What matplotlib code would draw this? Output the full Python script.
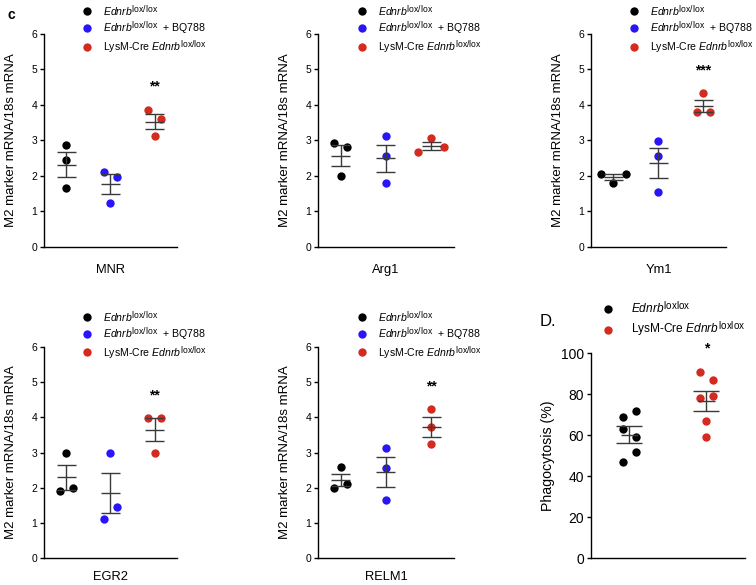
# M2 marker qPCR panels (c) + phagocytosis panel (D.)
import numpy as np
import matplotlib
matplotlib.use('Agg')
from matplotlib import pyplot as plt
from matplotlib.lines import Line2D
import matplotlib._mathtext as mathtext_core

plt.rcParams['font.family'] = ['Liberation Sans', 'DejaVu Sans']
plt.rcParams['mathtext.fontset'] = 'custom'
plt.rcParams['mathtext.rm'] = 'Liberation Sans'
plt.rcParams['mathtext.it'] = 'Liberation Sans:italic'
# superscripts in the original are only a little smaller than the text
# and sit lower than mathtext puts them by default
mathtext_core.SHRINK_FACTOR = 0.82
mathtext_core.FontConstantsBase.sup1 = 0.5

# ---- data ----
genes = ['MNR', 'Arg1', 'Ym1', 'EGR2', 'RELM1']

mnr_ctrl = [2.87, 2.45, 1.65]
mnr_bq = [2.12, 1.98, 1.23]
mnr_cre = [3.87, 3.60, 3.12]

arg1_ctrl = [2.92, 2.81, 2.00]
arg1_bq = [3.12, 2.56, 1.80]
arg1_cre = [2.67, 3.07, 2.81]

ym1_ctrl = [2.06, 1.81, 2.05]
ym1_bq = [2.98, 2.56, 1.56]
ym1_cre = [4.33, 3.79, 3.79]

egr2_ctrl = [3.00, 1.90, 2.00]
egr2_bq = [2.98, 1.11, 1.45]
egr2_cre = [3.98, 3.98, 2.98]

relm1_ctrl = [2.58, 1.98, 2.10]
relm1_bq = [3.13, 2.55, 1.66]
relm1_cre = [4.23, 3.71, 3.23]

mrna_stars = ['**', '', '***', '**', '**']

phago_ctrl = [69.1, 72.0, 63.1, 59.0, 47.0, 52.0]
phago_cre = [91.0, 87.0, 78.0, 79.2, 67.0, 59.0]
phago_stars = '*'

mrna_labels = [r'$\mathit{Ednrb}^{\mathrm{lox/lox}}$',
               r'$\mathit{Ednrb}^{\mathrm{lox/lox}}$  + BQ788',
               r'LysM-Cre $\mathit{Ednrb}^{\mathrm{lox/lox}}$']
phago_labels = [r'$\mathit{Ednrb}^{\mathrm{loxlox}}$',
                r'LysM-Cre $\mathit{Ednrb}^{\mathrm{loxlox}}$']

BLACK, BLUE, RED = '#000000', '#2a14f8', '#d42a1f'
BAR = '#3a3a3a'
MS = 6.0             # marker size (pt)
DIA = MS * 100 / 72  # marker diameter (px)


def swarm_offsets(ax, values):
    # GraphPad-like spread: points closer than ~1.75 diameters share a row
    bb = ax.get_window_extent()
    x0, x1 = ax.get_xlim()
    y0, y1 = ax.get_ylim()
    px_x = bb.width / (x1 - x0)
    px_y = bb.height / (y1 - y0)
    vals = np.asarray(values, dtype=float)
    clusters = []
    for i in np.argsort(-vals, kind='stable'):
        if clusters and (vals[clusters[-1][0]] - vals[i]) * px_y < 1.75 * DIA:
            clusters[-1].append(i)
        else:
            clusters.append([i])
    off = np.zeros(len(vals))
    for c in clusters:
        c = sorted(c)
        for k, i in enumerate(c):
            off[i] = (k - (len(c) - 1) / 2) * 1.55 * DIA / px_x
    return off


def sem_bar(ax, x, values, mean_half, cap_half):
    bb = ax.get_window_extent()
    x0, x1 = ax.get_xlim()
    px_x = bb.width / (x1 - x0)
    m = np.mean(values)
    s = np.std(values, ddof=1) / np.sqrt(len(values))
    kw = dict(color=BAR, lw=1.0, zorder=3)
    ax.vlines(x, m - s, m + s, **kw)
    ax.hlines([m - s, m + s], x - cap_half / px_x, x + cap_half / px_x, **kw)
    ax.hlines(m, x - mean_half / px_x, x + mean_half / px_x, **kw)


def style_axes(ax, tick_fs):
    for sp in ['top', 'right']:
        ax.spines[sp].set_visible(False)
    for sp in ['left', 'bottom']:
        ax.spines[sp].set_linewidth(1.0)
    ax.set_xticks([])
    ax.tick_params(axis='y', length=3, width=1.0, pad=2, labelsize=tick_fs)


def scatter_panel(ax, groups, colors, stars, mean_half, cap_half):
    for i, (vals, col) in enumerate(zip(groups, colors)):
        off = swarm_offsets(ax, vals)
        ax.plot(i + off, vals, 'o', ms=MS, color=col, mec='none', zorder=2)
        sem_bar(ax, i, vals, mean_half, cap_half)
    if stars:
        last = groups[-1]
        ax.annotate(stars, xy=(len(groups) - 1, max(last)), xytext=(0, 16.5),
                    textcoords='offset points', ha='center', va='center',
                    fontsize=10, fontweight='bold', annotation_clip=False)


fig = plt.figure(figsize=(7.56, 5.85), dpi=100)

cols = [(0.0582, 0.1759), (0.4206, 0.1799), (0.7817, 0.1786)]
rows = [(0.5778, 0.3641), (0.0456, 0.3617)]
legend_y = [1.145, 1.178]
xlabel_pad = [12, 9]

mrna_groups = [
    [mnr_ctrl, mnr_bq, mnr_cre],
    [arg1_ctrl, arg1_bq, arg1_cre],
    [ym1_ctrl, ym1_bq, ym1_cre],
    [egr2_ctrl, egr2_bq, egr2_cre],
    [relm1_ctrl, relm1_bq, relm1_cre],
]
colors3 = [BLACK, BLUE, RED]

for k, gene in enumerate(genes):
    r, c = divmod(k, 3)
    ax = fig.add_axes([cols[c][0], rows[r][0], cols[c][1], rows[r][1]])
    ax.set_xlim(-0.5, 2.5)
    ax.set_ylim(0, 6)
    ax.set_yticks(range(0, 7))
    style_axes(ax, 7.5)
    scatter_panel(ax, mrna_groups[k], colors3, mrna_stars[k], 9.5, 9.5)
    ax.set_ylabel('M2 marker mRNA/18s mRNA', fontsize=9.5, labelpad=10)
    ax.set_xlabel(gene, fontsize=9.3, labelpad=xlabel_pad[r])
    handles = [Line2D([], [], marker='o', ls='', ms=MS, color=cc, mec='none')
               for cc in colors3]
    ax.legend(handles, mrna_labels, loc='upper left',
              bbox_to_anchor=(0.283, legend_y[r]), frameon=False,
              fontsize=7.6, handlelength=1.0, handletextpad=1.0,
              labelspacing=0.2, borderpad=0, borderaxespad=0)

# phagocytosis panel
ax = fig.add_axes([0.7817, 0.0456, 0.2037, 0.3504])
ax.set_xlim(-0.5, 1.5)
ax.set_ylim(0, 100)
ax.set_yticks(range(0, 101, 20))
style_axes(ax, 10)
scatter_panel(ax, [phago_ctrl, phago_cre], [BLACK, RED], phago_stars, 8.5, 13)
ax.set_ylabel('Phagocytosis (%)', fontsize=10.2, labelpad=4)
handles = [Line2D([], [], marker='o', ls='', ms=MS, color=cc, mec='none')
           for cc in [BLACK, RED]]
ax.legend(handles, phago_labels, loc='upper left', bbox_to_anchor=(0.069, 1.26),
          frameon=False, fontsize=8.6, handlelength=1.0, handletextpad=1.5,
          labelspacing=0.35, borderpad=0, borderaxespad=0)

fig.text(11 / 756, 1 - 15 / 585, 'c', fontsize=10, fontweight='bold',
         ha='center', va='center')
fig.text(540 / 756, 1 - 321 / 585, 'D.', fontsize=12, ha='left', va='center')

fig.savefig('out.png', dpi=100)
